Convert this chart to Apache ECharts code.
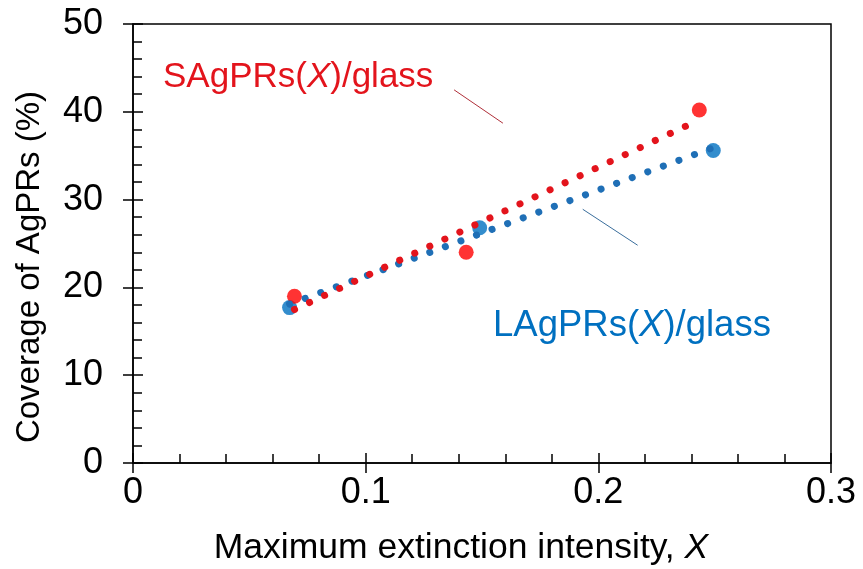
<!DOCTYPE html>
<html>
<head>
<meta charset="utf-8">
<script src="https://cdn.jsdelivr.net/npm/echarts@6/dist/echarts.min.js"></script>
<style>
  html, body { margin: 0; padding: 0; background: #fff; }
  #chart { width: 863px; height: 569px; }
</style>
</head>
<body>
<div id="chart"></div>
<script>
// Coverage vs. maximum extinction intensity for the two ring sizes
const smallX = [0.0694, 0.1432, 0.2434];
const smallY = [19.0, 24.0, 40.2];
const largeX = [0.0673, 0.1490, 0.2494];
const largeY = [17.7, 26.8, 35.6];

const xTicks = [0, 0.1, 0.2, 0.3];
const yTicks = [0, 10, 20, 30, 40, 50];

// Leader lines from the series labels toward their trend lines (data coords)
const smallLeader = [[0.138, 42.5], [0.159, 38.7]];
const largeLeader = [[0.1933, 28.9], [0.2169, 24.8]];

const FONT = '"Liberation Sans", Arial, Helvetica, sans-serif';
const RED = '#ff0000';
const RED_TREND = '#e3141c';
const BLUE = '#0070c0';
const BLUE_TREND = '#1f6fb6';

function pairs(xs, ys) { return xs.map((x, i) => [x, ys[i]]); }

// Least-squares linear fit, drawn over the range of the measured x values
function linearFit(xs, ys) {
  const n = xs.length;
  const mx = xs.reduce((a, b) => a + b, 0) / n;
  const my = ys.reduce((a, b) => a + b, 0) / n;
  let sxy = 0, sxx = 0;
  for (let i = 0; i < n; i++) {
    sxy += (xs[i] - mx) * (ys[i] - my);
    sxx += (xs[i] - mx) * (xs[i] - mx);
  }
  const k = sxy / sxx, b = my - k * mx;
  const x0 = Math.min(...xs), x1 = Math.max(...xs);
  return [[x0, k * x0 + b], [x1, k * x1 + b]];
}

const chart = echarts.init(document.getElementById('chart'), null, { renderer: 'canvas' });

const tickFmtX = v => (xTicks.some(t => Math.abs(t - v) < 1e-9) ? String(+v.toFixed(1)) : '');
const tickFmtY = v => (yTicks.indexOf(Math.round(v)) >= 0 ? String(Math.round(v)) : '');

const baseX = {
  type: 'value', min: 0, max: 0.3, interval: 0.1,
  splitLine: { show: false }
};
const baseY = {
  type: 'value', min: 0, max: 50, interval: 10,
  splitLine: { show: false }
};

const option = {
  animation: false,
  backgroundColor: '#ffffff',
  grid: {
    left: 133, right: 32, top: 24, bottom: 106,
    show: true, borderColor: '#000', borderWidth: 1.5, backgroundColor: 'transparent'
  },
  xAxis: [
    Object.assign({}, baseX, {
      position: 'bottom',
      axisLine: { show: true, onZero: false, lineStyle: { color: '#000', width: 1.5 } },
      axisTick: { show: true, inside: false, length: 10, lineStyle: { color: '#000', width: 1.5 } },
      axisLabel: {
        show: true, margin: 12, color: '#000', fontFamily: FONT, fontSize: 36,
        formatter: tickFmtX
      }
    }),
    Object.assign({}, baseX, {
      position: 'bottom',
      axisLine: { show: false },
      axisTick: { show: true, inside: true, length: 10, lineStyle: { color: '#000', width: 1.5 } },
      minorTick: { show: true, splitNumber: 5, length: 9, lineStyle: { color: '#000', width: 1.5 } },
      axisLabel: { show: false }
    })
  ],
  yAxis: [
    Object.assign({}, baseY, {
      position: 'left',
      axisLine: { show: true, onZero: false, lineStyle: { color: '#000', width: 1.5 } },
      axisTick: { show: true, inside: false, length: 10, lineStyle: { color: '#000', width: 1.5 } },
      axisLabel: { show: true, margin: 30, color: '#000', fontFamily: FONT, fontSize: 36, formatter: tickFmtY }
    }),
    Object.assign({}, baseY, {
      position: 'left',
      axisLine: { show: false },
      axisTick: { show: true, inside: true, length: 10, lineStyle: { color: '#000', width: 1.5 } },
      minorTick: { show: true, splitNumber: 5, length: 9, lineStyle: { color: '#000', width: 1.5 } },
      axisLabel: { show: false }
    })
  ],
  graphic: [
    {
      type: 'text', x: 30, y: 267, rotation: Math.PI / 2,
      style: {
        text: 'Coverage of AgPRs (%)', fill: '#000', font: '33px ' + FONT,
        align: 'center', verticalAlign: 'middle'
      }
    },
    {
      type: 'text', x: 461, y: 548,
      style: {
        text: '{n|Maximum extinction intensity, }{i|X}',
        align: 'center', verticalAlign: 'middle',
        rich: {
          n: { fontFamily: FONT, fontSize: 35.5, fill: '#000', color: '#000' },
          i: { fontFamily: FONT, fontSize: 35.5, fontStyle: 'italic', fill: '#000', color: '#000' }
        }
      }
    },
    {
      type: 'text', x: 163, y: 77,
      style: {
        text: '{n|SAgPRs(}{i|X}{n|)/glass}',
        align: 'left', verticalAlign: 'middle',
        rich: {
          n: { fontFamily: FONT, fontSize: 35, fill: RED_TREND, color: RED_TREND },
          i: { fontFamily: FONT, fontSize: 35, fontStyle: 'italic', fill: RED_TREND, color: RED_TREND }
        }
      }
    },
    {
      type: 'text', x: 493, y: 326,
      style: {
        text: '{n|LAgPRs(}{i|X}{n|)/glass}',
        align: 'left', verticalAlign: 'middle',
        rich: {
          n: { fontFamily: FONT, fontSize: 36.5, fill: BLUE, color: BLUE },
          i: { fontFamily: FONT, fontSize: 36.5, fontStyle: 'italic', fill: BLUE, color: BLUE }
        }
      }
    }
  ],
  series: [
    {
      name: 'LAgPRs(X)/glass', type: 'scatter', data: pairs(largeX, largeY),
      symbol: 'circle', symbolSize: 15, itemStyle: { color: BLUE }, z: 3
    },
    {
      name: 'SAgPRs(X)/glass', type: 'scatter', data: pairs(smallX, smallY),
      symbol: 'circle', symbolSize: 15, itemStyle: { color: RED }, z: 3
    },
    {
      name: 'LAgPRs trend', type: 'line', data: linearFit(largeX, largeY),
      showSymbol: false, symbol: 'none', silent: true, z: 4,
      lineStyle: { color: BLUE_TREND, width: 7, type: [0.1, 16.5], cap: 'round' }
    },
    {
      name: 'SAgPRs trend', type: 'line', data: linearFit(smallX, smallY),
      showSymbol: false, symbol: 'none', silent: true, z: 4,
      lineStyle: { color: RED_TREND, width: 7, type: [0.1, 16.5], cap: 'round' }
    },
    {
      name: 'SAgPRs leader', type: 'line', data: smallLeader,
      showSymbol: false, symbol: 'none', silent: true, z: 2,
      lineStyle: { color: '#b0303a', width: 1 }
    },
    {
      name: 'LAgPRs leader', type: 'line', data: largeLeader,
      showSymbol: false, symbol: 'none', silent: true, z: 2,
      lineStyle: { color: '#3a6e9c', width: 1 }
    }
  ]
};

chart.setOption(option);
</script>
</body>
</html>
